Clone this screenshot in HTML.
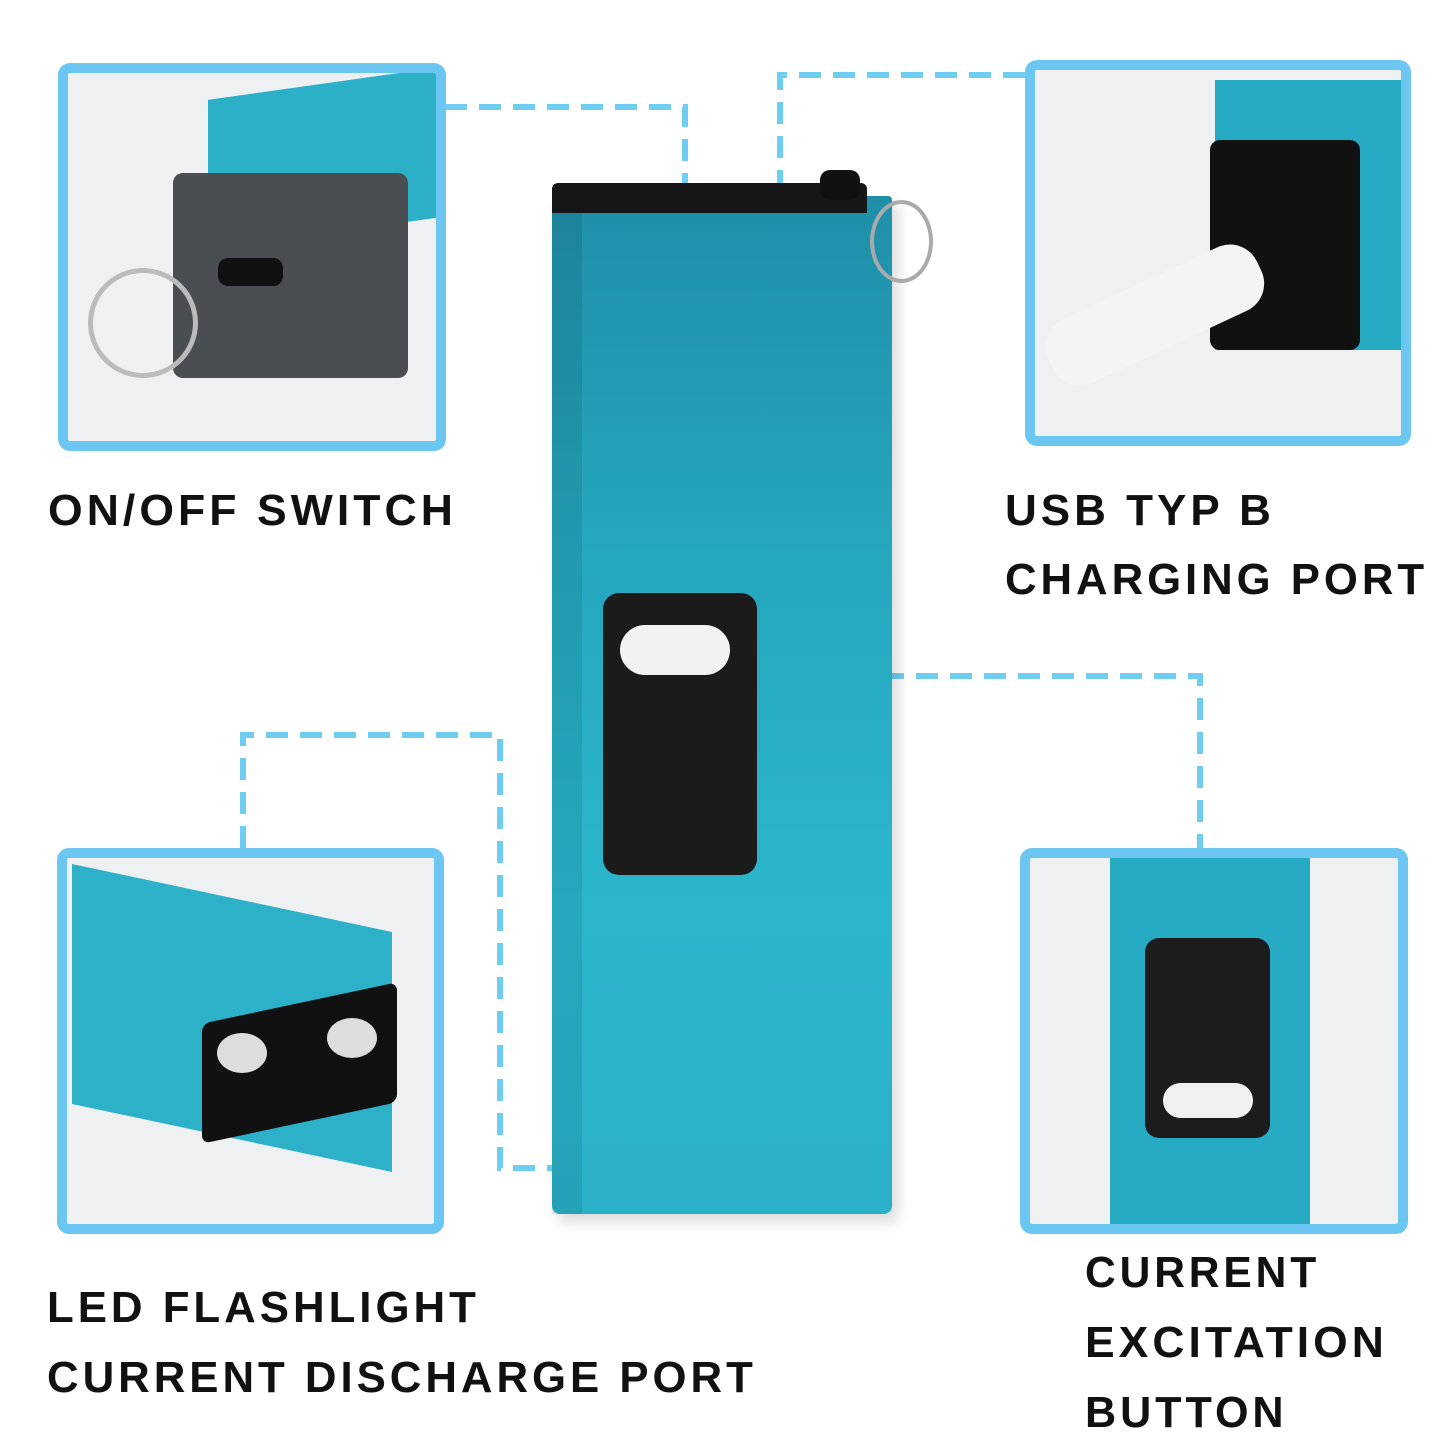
<!DOCTYPE html>
<html><head><meta charset="utf-8"><style>
html,body{margin:0;padding:0;background:#fff;}
body{width:1445px;height:1445px;position:relative;overflow:hidden;font-family:"Liberation Sans",sans-serif;}
.box{position:absolute;border:10px solid #6cc6f2;border-radius:12px;background:#eef0f2;overflow:hidden;box-sizing:border-box;}
.t{position:absolute;font-weight:bold;color:#111;font-size:44px;letter-spacing:4px;white-space:nowrap;transform-origin:left top;}
.abs{position:absolute;}
</style></head><body>

<svg class="abs" style="left:0;top:0" width="1445" height="1445">
<g fill="none" stroke="#6fcdf2" stroke-width="6" stroke-dasharray="22,12">
<path d="M445 107 H685 V185"/>
<path d="M1025 75 H780 V190"/>
<path d="M882 676 H1200 V848"/>
<path d="M243 848 V735 H500 V1168 H620"/>
</g>
</svg>

<!-- main device -->
<div class="abs" style="left:552px;top:196px;width:340px;height:1018px;background:linear-gradient(180deg,#1f8fa8 0%,#25a7be 35%,#2bb6cc 70%,#2ab0c8 100%);border-radius:4px 4px 8px 8px;box-shadow:6px 8px 14px rgba(0,0,0,0.15);"></div>
<div class="abs" style="left:552px;top:196px;width:30px;height:1018px;background:rgba(0,0,0,0.08);"></div>
<div class="abs" style="left:552px;top:183px;width:315px;height:30px;background:#161616;border-radius:6px 6px 0 0;"></div>
<div class="abs" style="left:820px;top:170px;width:40px;height:30px;background:#111;border-radius:10px;"></div>
<div class="abs" style="left:870px;top:200px;width:55px;height:75px;border:4px solid #aaa;border-radius:50%;"></div>
<div class="abs" style="left:603px;top:593px;width:154px;height:282px;background:#1b1b1b;border-radius:16px;"></div>
<div class="abs" style="left:620px;top:625px;width:110px;height:50px;background:#f2f2f2;border-radius:25px;"></div>

<!-- top-left -->
<div class="box" style="left:58px;top:63px;width:388px;height:388px;">
 <div class="abs" style="left:140px;top:10px;width:240px;height:150px;background:#2cb0c8;transform:skewY(-8deg);"></div>
 <div class="abs" style="left:105px;top:100px;width:235px;height:205px;background:#4a4d52;border-radius:10px;"></div>
 <div class="abs" style="left:150px;top:185px;width:65px;height:28px;background:#111;border-radius:10px;"></div>
 <div class="abs" style="left:20px;top:195px;width:100px;height:100px;border:5px solid #bbb;border-radius:50%;"></div>
</div>

<!-- top-right -->
<div class="box" style="left:1025px;top:60px;width:386px;height:386px;">
 <div class="abs" style="left:180px;top:10px;width:200px;height:270px;background:#26a9c2;"></div>
 <div class="abs" style="left:175px;top:70px;width:150px;height:210px;background:#111;border-radius:10px;"></div>
 <div class="abs" style="left:5px;top:210px;width:230px;height:70px;background:#f4f4f6;border-radius:30px;transform:rotate(-25deg);"></div>
</div>

<!-- bottom-left -->
<div class="box" style="left:57px;top:848px;width:387px;height:386px;">
 <div class="abs" style="left:5px;top:40px;width:320px;height:240px;background:#2cb1c9;transform:skewY(12deg);"></div>
 <div class="abs" style="left:135px;top:145px;width:195px;height:120px;background:#111;border-radius:8px;transform:skewY(-12deg);"></div>
 <div class="abs" style="left:150px;top:175px;width:50px;height:40px;background:#ddd;border-radius:50%;"></div>
 <div class="abs" style="left:260px;top:160px;width:50px;height:40px;background:#ddd;border-radius:50%;"></div>
</div>

<!-- bottom-right -->
<div class="box" style="left:1020px;top:848px;width:388px;height:386px;">
 <div class="abs" style="left:80px;top:0;width:200px;height:380px;background:#27aac3;"></div>
 <div class="abs" style="left:115px;top:80px;width:125px;height:200px;background:#1c1c1c;border-radius:14px;"></div>
 <div class="abs" style="left:133px;top:225px;width:90px;height:35px;background:#f0f0f0;border-radius:18px;"></div>
</div>

<div class="t" style="left:48px;top:486px;transform:scaleX(1.0)">ON/OFF SWITCH</div>
<div class="t" style="left:1005px;top:486px;">USB TYP B</div>
<div class="t" style="left:1005px;top:555px;">CHARGING PORT</div>
<div class="t" style="left:47px;top:1283px;">LED FLASHLIGHT</div>
<div class="t" style="left:47px;top:1353px;">CURRENT DISCHARGE PORT</div>
<div class="t" style="left:1085px;top:1248px;">CURRENT</div>
<div class="t" style="left:1085px;top:1318px;">EXCITATION</div>
<div class="t" style="left:1085px;top:1388px;">BUTTON</div>

<script>
document.querySelectorAll('.t').forEach(function(e){
 var targets={"ON/OFF SWITCH":409,"USB TYP B":270,"CHARGING PORT":423,"LED FLASHLIGHT":433,"CURRENT DISCHARGE PORT":710,"CURRENT":235,"EXCITATION":303,"BUTTON":203};
 var w=targets[e.textContent];if(w){e.style.transform='scaleX('+(w/e.offsetWidth)+')';}
});
</script>
</body></html>
